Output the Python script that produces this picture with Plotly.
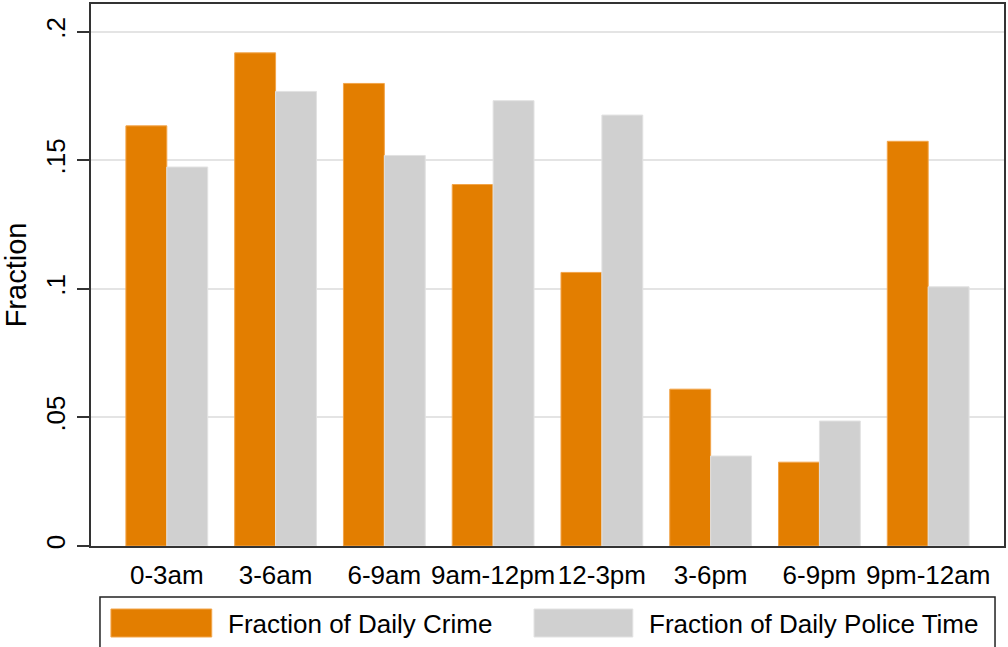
import plotly.graph_objects as go

categories = ["0-3am", "3-6am", "6-9am", "9am-12pm", "12-3pm", "3-6pm", "6-9pm", "9pm-12am"]
crime = [0.1634, 0.1918, 0.1799, 0.1406, 0.1064, 0.0610, 0.0326, 0.1574]
police = [0.1474, 0.1768, 0.1519, 0.1732, 0.1676, 0.0350, 0.0486, 0.1008]
ytick_vals = [0, 0.05, 0.1, 0.15, 0.2]
ytick_text = ["0", ".05", ".1", ".15", ".2"]
series_names = ["Fraction of Daily Crime", "Fraction of Daily Police Time"]

ORANGE = "#E37E00"
GRAY = "#D0D0D0"
FONT = "Liberation Sans, Arial, sans-serif"

W, H = 1008, 647
L, R, T, B = 91, 2, 4, 101
pw, ph = W - L - R, H - T - B


def px(x):
    return (x - L) / pw


def py(y):
    return (H - B - y) / ph


fig = go.Figure()
fig.add_trace(go.Bar(x=categories, y=crime, name=series_names[0],
                     marker=dict(color=ORANGE, line=dict(color="#F2A54A", width=1))))
fig.add_trace(go.Bar(x=categories, y=police, name=series_names[1],
                     marker=dict(color=GRAY, line=dict(color="#E2E2E2", width=1))))

shapes = [
    # legend box
    dict(type="rect", xref="paper", yref="paper", x0=px(100), x1=px(997), y0=py(660), y1=py(597),
         line=dict(color="#222222", width=1.5), fillcolor="white", layer="above"),
    dict(type="rect", xref="paper", yref="paper", x0=px(111), x1=px(212), y0=py(637), y1=py(609),
         line=dict(color="#F2A54A", width=1), fillcolor=ORANGE),
    dict(type="rect", xref="paper", yref="paper", x0=px(535), x1=px(634), y0=py(637), y1=py(609),
         line=dict(color="#E2E2E2", width=1), fillcolor=GRAY),
]
annotations = [
    dict(xref="paper", yref="paper", x=px(226), y=py(624), text=series_names[0], showarrow=False,
         xanchor="left", yanchor="middle", font=dict(family=FONT, size=26, color="black")),
    dict(xref="paper", yref="paper", x=px(648), y=py(624), text=series_names[1], showarrow=False,
         xanchor="left", yanchor="middle", font=dict(family=FONT, size=26, color="black")),
]

fig.update_layout(
    width=W, height=H,
    margin=dict(l=L, r=R, t=T, b=B, pad=0),
    plot_bgcolor="white", paper_bgcolor="white",
    barmode="group", bargap=0.248, bargroupgap=0,
    showlegend=False,
    font=dict(family=FONT, color="black"),
    shapes=shapes, annotations=annotations,
    xaxis=dict(range=[-0.697, 7.697], showgrid=False, ticks="", showline=True,
               linecolor="#333333", linewidth=2, mirror=True,
               tickfont=dict(size=26, family=FONT, color="black"), ticklabelstandoff=5),
    yaxis=dict(range=[0, 0.2108], tickvals=ytick_vals, ticktext=ytick_text, tickangle=-90,
               ticks="outside", ticklen=12, tickwidth=1.5, tickcolor="#333333",
               showgrid=True, gridcolor="#E4E4E4", gridwidth=2, zeroline=False,
               showline=True, linecolor="#333333", linewidth=2, mirror=True,
               tickfont=dict(size=26, family=FONT, color="black"), ticklabelstandoff=2,
               title=dict(text="Fraction", font=dict(size=29, family=FONT, color="black"), standoff=8)),
)

fig.write_html("out.html", config={"displayModeBar": False},
               post_script="document.body.style.margin='0';document.body.style.overflow='hidden';")
